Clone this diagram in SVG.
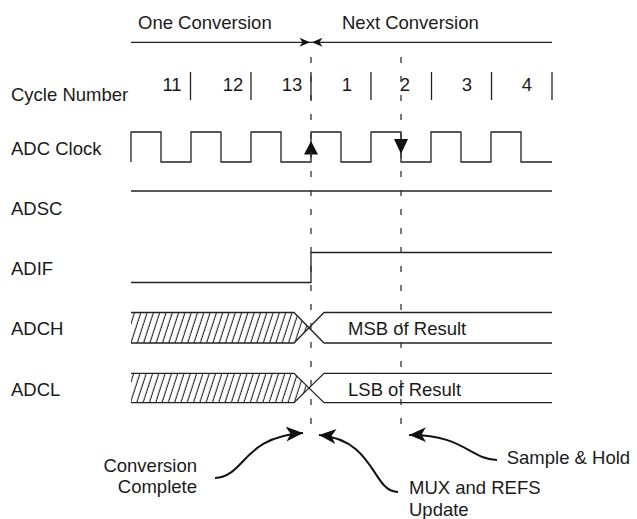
<svg xmlns="http://www.w3.org/2000/svg" width="637" height="519" viewBox="0 0 637 519">
<style>
  text { font-family: "Liberation Sans", Arial, sans-serif; font-size: 18.5px; fill: #1a1a1a; }
  .sig { fill: none; stroke: #222; stroke-width: 1.3; }
  .dash { fill: none; stroke: #333; stroke-width: 1.3; stroke-dasharray: 6 13; }
  .curve { fill: none; stroke: #111; stroke-width: 2; }
  .head { fill: #111; stroke: none; }
  .mid { text-anchor: middle; }
  .end { text-anchor: end; }
</style>
<defs>
  <pattern id="hatch" patternUnits="userSpaceOnUse" width="6.3" height="10" patternTransform="skewX(-18)">
    <line x1="3" y1="0" x2="3" y2="10" stroke="#111" stroke-width="1.05"/>
  </pattern>
  <marker id="arr" markerUnits="userSpaceOnUse" markerWidth="19" markerHeight="15" refX="17" refY="7.5" orient="auto">
    <path d="M0,0 L17,7.5 L0,15 L4.5,7.5 Z" fill="#111"/>
  </marker>
</defs>
<rect width="637" height="519" fill="#fff"/>

<g id="header">
  <text x="138" y="28.5">One Conversion</text>
  <text x="342" y="28.5">Next Conversion</text>
  <line class="sig" x1="131" y1="42.3" x2="552" y2="42.3"/>
  <path class="head" d="M310,42.3 L299.5,37.8 L302.5,42.3 L299.5,46.8 Z"/>
  <path class="head" d="M312,42.3 L322.5,37.8 L319.5,42.3 L322.5,46.8 Z"/>
</g>

<g id="cycle-number">
  <text x="11" y="101">Cycle Number</text>
  <g class="sig">
    <line x1="190.5" y1="72" x2="190.5" y2="100"/>
    <line x1="251" y1="72" x2="251" y2="100"/>
    <line x1="311" y1="72" x2="311" y2="100"/>
    <line x1="371" y1="72" x2="371" y2="100"/>
    <line x1="431.5" y1="72" x2="431.5" y2="100"/>
    <line x1="491.5" y1="72" x2="491.5" y2="100"/>
    <line x1="552" y1="72" x2="552" y2="100"/>
  </g>
  <text class="mid" x="172" y="91">11</text>
  <text class="mid" x="233" y="91">12</text>
  <text class="mid" x="292" y="91">13</text>
  <text class="mid" x="347" y="91">1</text>
  <text class="mid" x="405" y="91">2</text>
  <text class="mid" x="467" y="91">3</text>
  <text class="mid" x="527" y="91">4</text>
</g>

<g id="adc-clock">
  <text x="11" y="155">ADC Clock</text>
  <path class="sig" d="M131,162 V132 H161 V162 H191 V132 H221 V162 H251 V132 H281 V162 H311 V132 H341 V162 H371 V132 H401 V162 H431 V132 H461 V162 H491 V132 H521 V162 H552"/>
  <path class="head" d="M311,141 L304,154.5 L318,154.5 Z"/>
  <path class="head" d="M394,139 L408,139 L401,154 Z"/>
</g>

<g id="adsc">
  <text x="11" y="215">ADSC</text>
  <line class="sig" x1="131" y1="191" x2="552" y2="191"/>
</g>

<g id="adif">
  <text x="11" y="275">ADIF</text>
  <path class="sig" d="M131,282.5 H311 V252.5 H552"/>
</g>

<g id="adch">
  <text x="11" y="335">ADCH</text>
  <polygon points="131,312.5 294,312.5 309.3,327.7 294,343 131,343" fill="url(#hatch)"/>
  <path class="sig" d="M131,312.5 H294 L324,343 H552 M131,343 H294 L324,312.5 H552"/>
  <text x="348" y="335">MSB of Result</text>
</g>

<g id="adcl">
  <text x="11" y="395.5">ADCL</text>
  <polygon points="131,373.3 294,373.3 309.3,388 294,402.7 131,402.7" fill="url(#hatch)"/>
  <path class="sig" d="M131,373.3 H294 L324,402.7 H552 M131,402.7 H294 L324,373.3 H552"/>
  <text x="348" y="395.5">LSB of Result</text>
</g>

<g id="connectors">
  <line class="dash" x1="311" y1="57" x2="311" y2="426"/>
  <line class="dash" x1="401" y1="57" x2="401" y2="426"/>
  <path class="curve" d="M215,478 C246,476 242,437 303,433" marker-end="url(#arr)"/>
  <path class="curve" d="M398,492 C372,492 376,440 319,435" marker-end="url(#arr)"/>
  <path class="curve" d="M497,460 C472,460 462,434 409,435" marker-end="url(#arr)"/>
</g>

<g id="conversion-complete">
  <text class="end" x="197" y="471.7">Conversion</text>
  <text class="end" x="197" y="493.3">Complete</text>
</g>
<g id="mux-refs-update">
  <text x="409" y="494.3">MUX and REFS</text>
  <text x="409" y="516">Update</text>
</g>
<g id="sample-hold">
  <text x="506.7" y="464">Sample &amp; Hold</text>
</g>
</svg>
